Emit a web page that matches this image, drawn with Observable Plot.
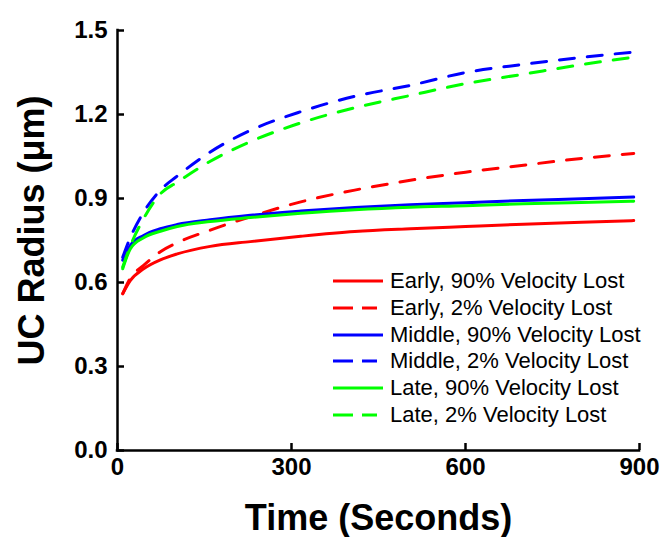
<!DOCTYPE html>
<html>
<head>
<meta charset="utf-8">
<script src="https://cdn.jsdelivr.net/npm/d3@7"></script>
<script src="https://cdn.jsdelivr.net/npm/@observablehq/plot@0.6"></script>
<style>
  html, body { margin: 0; padding: 0; background: #fff; }
  #wrap { position: relative; width: 664px; height: 537px; font-family: "Liberation Sans", Arial, sans-serif; }
  #legend { position: absolute; left: 333px; top: 268px; }
  .row { display: flex; align-items: center; height: 26.67px; }
  .row svg { width: 50px; height: 10px; margin-right: 7px; }
  .row span { font-size: 22px; color: #000; white-space: nowrap; line-height: 1; }
</style>
</head>
<body>
<div id="wrap"><div id="legend"></div></div>
<script>
// Time points (seconds)
const times = [9, 22, 45, 74, 103, 160, 229, 316, 409, 505, 600, 700, 800, 890];
// UC radius (µm) per series
const early90  = [0.560, 0.607, 0.649, 0.681, 0.702, 0.729, 0.746, 0.765, 0.782, 0.792, 0.800, 0.808, 0.815, 0.821];
const early2   = [0.560, 0.615, 0.661, 0.710, 0.742, 0.787, 0.835, 0.888, 0.930, 0.965, 0.994, 1.019, 1.043, 1.061];
const middle90 = [0.680, 0.732, 0.768, 0.792, 0.807, 0.824, 0.840, 0.855, 0.868, 0.878, 0.885, 0.893, 0.899, 0.905];
const middle2  = [0.690, 0.760, 0.851, 0.930, 0.980, 1.066, 1.143, 1.210, 1.265, 1.304, 1.350, 1.379, 1.404, 1.423];
const late90   = [0.649, 0.720, 0.760, 0.783, 0.800, 0.818, 0.832, 0.847, 0.860, 0.869, 0.874, 0.881, 0.886, 0.890];
const late2    = [0.655, 0.730, 0.828, 0.917, 0.958, 1.033, 1.103, 1.170, 1.224, 1.268, 1.310, 1.344, 1.378, 1.405];

const seriesNames = [
  "Early, 90% Velocity Lost",
  "Early, 2% Velocity Lost",
  "Middle, 90% Velocity Lost",
  "Middle, 2% Velocity Lost",
  "Late, 90% Velocity Lost",
  "Late, 2% Velocity Lost"
];
const seriesValues = [early90, early2, middle90, middle2, late90, late2];
const seriesColors = ["#ff0000", "#ff0000", "#0000ff", "#0000ff", "#00ff00", "#00ff00"];
const seriesDashed = [false, true, false, true, false, true];

const xTicks = [0, 300, 600, 900];
const yTicks = [0.0, 0.3, 0.6, 0.9, 1.2, 1.5];

const lineMarks = seriesNames.map((name, i) => {
  const data = times.map((t, j) => ({t, v: seriesValues[i][j]}));
  return Plot.line(data, {
    x: "t", y: "v",
    stroke: seriesColors[i],
    strokeWidth: 3,
    curve: "monotone-x",
    strokeDasharray: seriesDashed[i] ? "15,13" : null
  });
});

const chart = Plot.plot({
  width: 664,
  height: 537,
  marginTop: 30,
  marginLeft: 117,
  marginRight: 25,
  marginBottom: 87,
  style: {fontFamily: "Liberation Sans, Arial, sans-serif", background: "#fff", overflow: "visible"},
  x: {domain: [0, 900]},
  y: {domain: [0, 1.5]},
  marks: [
    ...lineMarks,
    Plot.ruleX([0], {stroke: "#000", strokeWidth: 2.5, strokeLinecap: "square"}),
    Plot.ruleY([0], {stroke: "#000", strokeWidth: 2.5, strokeLinecap: "square"}),
    Plot.axisY({ticks: yTicks, tickSize: -7, tickPadding: 17, strokeWidth: 2.5, tickFormat: d3.format(".1f"), fontSize: 24, fontWeight: "bold", fill: "#000", label: null}),
    Plot.axisX({ticks: xTicks, tickSize: -7, tickPadding: 14, strokeWidth: 2.5, tickFormat: d3.format("d"), fontSize: 24, fontWeight: "bold", fill: "#000", label: null}),
    Plot.text(["UC Radius (\u03bcm)"], {text: d => d, frameAnchor: "left", textAnchor: "middle", lineAnchor: "middle", rotate: -90, dx: -85, dy: -10, fontSize: 36, fontWeight: "bold", fill: "#000"}),
    Plot.text(["Time (Seconds)"], {text: d => d, frameAnchor: "bottom", textAnchor: "middle", lineAnchor: "middle", dy: 68, fontSize: 36, fontWeight: "bold", fill: "#000"})
  ]
});

const wrap = document.getElementById("wrap");
wrap.insertBefore(chart, wrap.firstChild);

const legend = document.getElementById("legend");
seriesNames.forEach((name, i) => {
  const row = document.createElement("div");
  row.className = "row";
  const dash = seriesDashed[i] ? 'stroke-dasharray="20,9,15,99"' : "";
  row.innerHTML = `<svg viewBox="0 0 50 10"><line x1="0" y1="5" x2="50" y2="5" stroke="${seriesColors[i]}" stroke-width="3" ${dash}/></svg><span>${name}</span>`;
  legend.appendChild(row);
});
</script>
</body>
</html>
